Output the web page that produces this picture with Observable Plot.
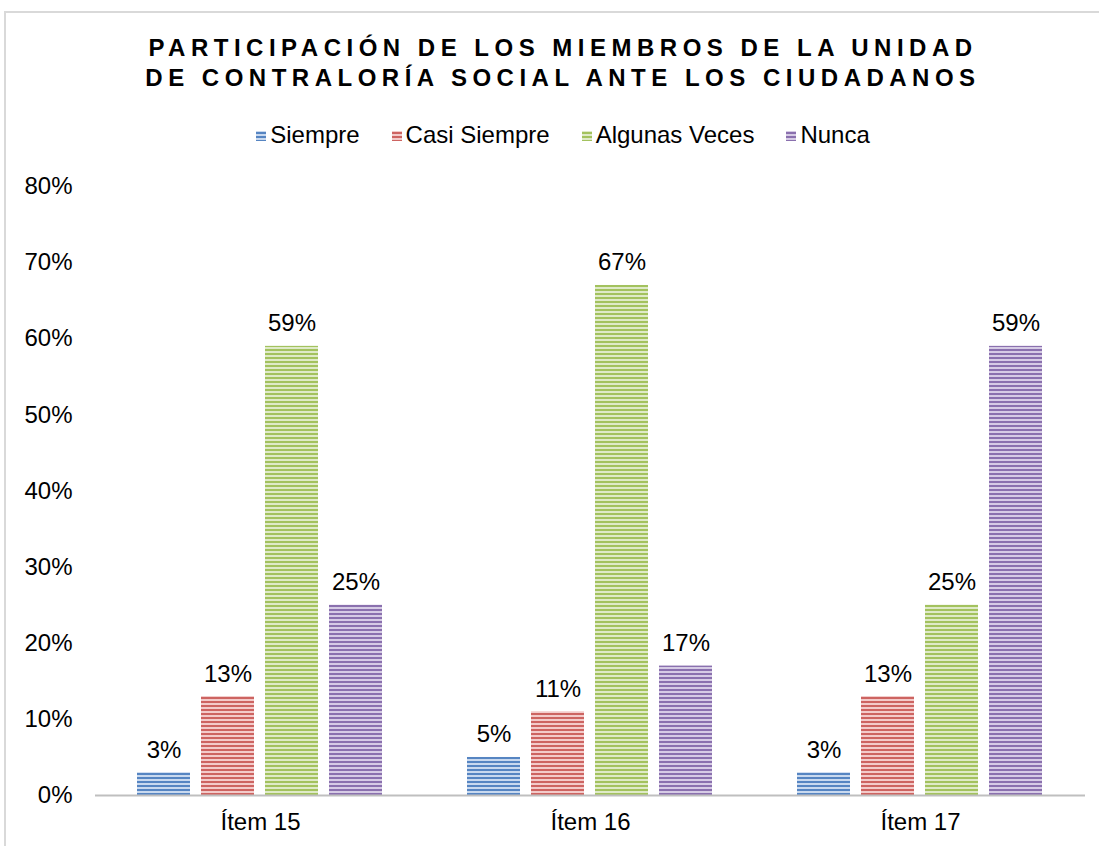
<!DOCTYPE html>
<html>
<head>
<meta charset="utf-8">
<script src="https://cdn.jsdelivr.net/npm/d3@7"></script>
<script src="https://cdn.jsdelivr.net/npm/@observablehq/plot@0.6"></script>
<style>
  html, body { margin: 0; padding: 0; background: #fff; width: 1099px; height: 846px; overflow: hidden; }
  body { font-family: "Liberation Sans", Arial, sans-serif; position: relative; }
  #frame { position: absolute; left: 4px; top: 11px; width: 1200px; height: 900px; border: 2px solid #d9d9d9; box-sizing: border-box; }
  #title { position: absolute; left: 0; top: 33px; width: 1126px; text-align: center; font-weight: bold; font-size: 24px; letter-spacing: 5.5px; line-height: 30px; color: #000; }
  #legend { position: absolute; left: 0; top: 120px; width: 1126px; text-align: center; font-size: 24px; line-height: 30px; color: #000; }
  .item { display: inline-block; margin: 0 16px; }
  .sw { display: inline-block; width: 10px; height: 10px; margin-right: 4px; vertical-align: 2px; }
  #chart { position: absolute; left: 0; top: 160px; }
</style>
</head>
<body>
<div id="frame"></div>
<div id="title">PARTICIPACIÓN DE LOS MIEMBROS DE LA UNIDAD<br>DE CONTRALORÍA SOCIAL ANTE LOS CIUDADANOS</div>
<div id="legend"></div>
<div id="chart"></div>
<script>
const items = ["Ítem 15", "Ítem 16", "Ítem 17"];
const series = ["Siempre", "Casi Siempre", "Algunas Veces", "Nunca"];
const siempre = [0.03, 0.05, 0.03];
const casiSiempre = [0.13, 0.11, 0.13];
const algunasVeces = [0.59, 0.67, 0.25];
const nunca = [0.25, 0.17, 0.59];
const darkColors = ["#5685c2", "#cd6461", "#a3c25e", "#8a70ae"];
const lightColors = ["#c9d9ef", "#f3cbca", "#dfeac8", "#d6cbe5"];
const yTicks = [0, 0.1, 0.2, 0.3, 0.4, 0.5, 0.6, 0.7, 0.8];

const valuesBySeries = [siempre, casiSiempre, algunasVeces, nunca];
const data = [];
items.forEach((it, i) => series.forEach((s, j) => data.push({item: it, serie: s, value: valuesBySeries[j][i]})));
const patId = j => `url(#pat${j})`;

const fmt = d3.format(".0%");
const plot = Plot.plot({
  width: 1099,
  height: 685,
  marginLeft: 95,
  marginRight: 14,
  marginTop: 26,
  marginBottom: 50,
  style: {fontFamily: "Liberation Sans, Arial, sans-serif", fontSize: "24px", color: "#000", background: "transparent"},
  fx: {domain: items, padding: 0, label: null, axis: "bottom", tickSize: 0, tickPadding: 17},
  x: {domain: series, paddingInner: 0.17, paddingOuter: 0.66, axis: null},
  y: {domain: [0, 0.8], ticks: yTicks, tickFormat: fmt, label: null, tickSize: 0, tickPadding: 23},
  color: {domain: series, range: series.map((s, j) => patId(j))},
  marks: [
    Plot.barY(data, {fx: "item", x: "serie", y: "value", fill: "serie"}),
    Plot.ruleY([0], {stroke: "#bfbfbf", strokeWidth: 2}),
    Plot.text(data, {fx: "item", x: "serie", y: "value", text: d => fmt(d.value), dy: -15, lineAnchor: "bottom", fill: "#000", fontSize: 24})
  ]
});

// Stripe patterns
const svgNS = "http://www.w3.org/2000/svg";
const defs = document.createElementNS(svgNS, "defs");
series.forEach((s, j) => {
  const p = document.createElementNS(svgNS, "pattern");
  p.setAttribute("id", `pat${j}`);
  p.setAttribute("patternUnits", "userSpaceOnUse");
  p.setAttribute("width", 8);
  p.setAttribute("height", 4);
  const r1 = document.createElementNS(svgNS, "rect");
  r1.setAttribute("width", 8); r1.setAttribute("height", 4); r1.setAttribute("fill", lightColors[j]);
  const r2 = document.createElementNS(svgNS, "rect");
  r2.setAttribute("width", 8); r2.setAttribute("height", 2); r2.setAttribute("y", 1); r2.setAttribute("fill", darkColors[j]);
  p.appendChild(r1); p.appendChild(r2);
  defs.appendChild(p);
});
plot.insertBefore(defs, plot.firstChild);
document.getElementById("chart").appendChild(plot);

// Legend
const legend = document.getElementById("legend");
series.forEach((s, j) => {
  const it = document.createElement("span");
  it.className = "item";
  const sw = document.createElement("span");
  sw.className = "sw";
  sw.style.background = `repeating-linear-gradient(to bottom, ${lightColors[j]} 0px, ${lightColors[j]} 1px, ${darkColors[j]} 1px, ${darkColors[j]} 3px, ${lightColors[j]} 3px, ${lightColors[j]} 4px)`;
  it.appendChild(sw);
  it.appendChild(document.createTextNode(s));
  legend.appendChild(it);
});
</script>
</body>
</html>
